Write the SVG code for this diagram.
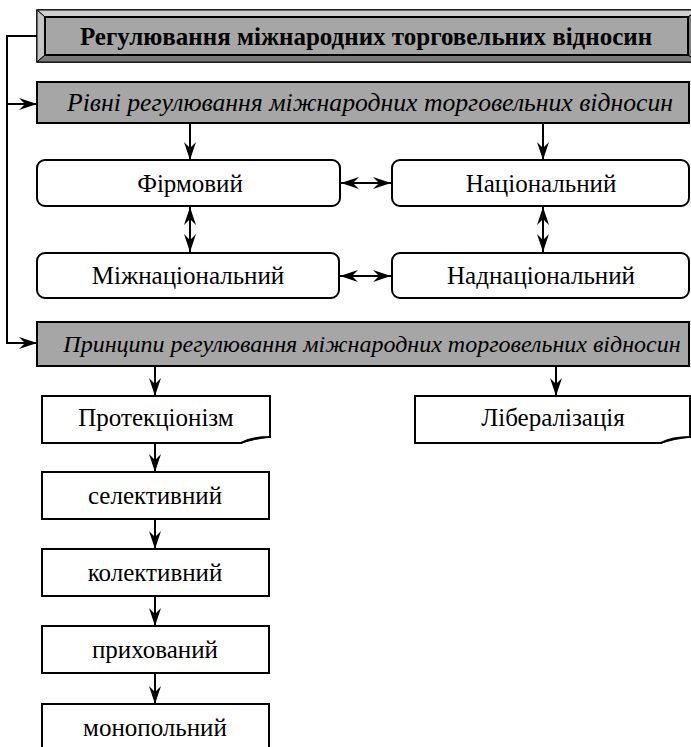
<svg xmlns="http://www.w3.org/2000/svg" width="691" height="747" viewBox="0 0 691 747">
  <style>
    .t { font-family: "Liberation Serif", "Times New Roman", serif; font-size: 25px; fill: #000; text-anchor: middle; }
    .bold { font-weight: bold; font-size: 25px; }
    .it { font-style: italic; font-size: 25px; }
    .box { fill: #fff; stroke: #000; stroke-width: 2; }
    .grey { fill: #a6a6a6; stroke: #000; stroke-width: 2; }
    .edge { fill: none; stroke: #000; stroke-width: 2; }
  </style>
  <defs>
    <marker id="head" markerUnits="userSpaceOnUse" viewBox="0 0 18 12" refX="18" refY="6" markerWidth="18" markerHeight="12" orient="auto-start-reverse">
      <path d="M0,0 L18,6 L0,12 L6,6 Z" fill="#000"/>
    </marker>
  </defs>

  <!-- heading with bevelled frame -->
  <g id="title">
    <rect x="37" y="10" width="662" height="52" fill="#a6a6a6" stroke="#000" stroke-width="1.5"/>
    <polygon points="37,10 699,10 688,17 45,17" fill="#cfcfcf" stroke="#000" stroke-width="1"/>
    <polygon points="37,10 45,17 45,55 37,62" fill="#c4c4c4" stroke="#000" stroke-width="1"/>
    <polygon points="37,62 45,55 688,55 699,62" fill="#7a7a7a" stroke="#000" stroke-width="1"/>
    <polygon points="688,17 699,10 699,62 688,55" fill="#7a7a7a" stroke="#000" stroke-width="1"/>
    <rect x="45" y="17" width="643" height="38" fill="#a6a6a6" stroke="#000" stroke-width="2"/>
    <text class="t bold" x="366" y="45">Регулювання міжнародних торговельних відносин</text>
  </g>

  <g id="levels">
    <rect class="grey" x="37" y="82" width="652" height="41"/>
    <text class="t it" x="370" y="111" textLength="606" lengthAdjust="spacingAndGlyphs">Рівні регулювання міжнародних торговельних відносин</text>
  </g>

  <g id="firm">
    <rect class="box" x="37" y="160" width="303" height="46" rx="8"/>
    <text class="t" x="190" y="192">Фірмовий</text>
  </g>
  <g id="national">
    <rect class="box" x="392" y="160" width="297" height="46" rx="8"/>
    <text class="t" x="541" y="192">Національний</text>
  </g>
  <g id="international">
    <rect class="box" x="37" y="253" width="302" height="45" rx="8"/>
    <text class="t" x="188" y="284">Міжнаціональний</text>
  </g>
  <g id="supranational">
    <rect class="box" x="392" y="253" width="297" height="45" rx="8"/>
    <text class="t" x="541" y="284">Наднаціональний</text>
  </g>

  <g id="principles">
    <rect class="grey" x="37" y="322" width="652" height="44"/>
    <text class="t it" x="372" y="352" style="font-size:24px">Принципи регулювання міжнародних торговельних відносин</text>
  </g>

  <g id="protectionism">
    <path class="box" d="M42,396 H270 V437 Q252,437 241,443 H42 Z"/>
    <path d="M241,443 Q250,437.5 270,437 Q254,439 241,443 Z" fill="#000" stroke="#000" stroke-width="1"/>
    <text class="t" x="156" y="426">Протекціонізм</text>
  </g>
  <g id="liberalization">
    <path class="box" d="M415,396 H690 V437 Q672,437 661,443 H415 Z"/>
    <path d="M661,443 Q670,437.5 690,437 Q674,439 661,443 Z" fill="#000" stroke="#000" stroke-width="1"/>
    <text class="t" x="553" y="426">Лібералізація</text>
  </g>

  <g id="selective">
    <rect class="box" x="42" y="472" width="227" height="47"/>
    <text class="t" x="155" y="504">селективний</text>
  </g>
  <g id="collective">
    <rect class="box" x="42" y="549" width="227" height="47"/>
    <text class="t" x="155" y="581">колективний</text>
  </g>
  <g id="hidden">
    <rect class="box" x="42" y="626" width="227" height="47"/>
    <text class="t" x="155" y="658">прихований</text>
  </g>
  <g id="monopoly">
    <rect class="box" x="42" y="704" width="227" height="60"/>
    <text class="t" x="155" y="736">монопольний</text>
  </g>

  <!-- connectors -->
  <g id="connectors">
    <path class="edge" d="M37,36 H7 V343 H37" marker-end="url(#head)"/>
    <path class="edge" d="M7,104 H37" marker-end="url(#head)"/>
    <path class="edge" d="M190,123 V160" marker-end="url(#head)"/>
    <path class="edge" d="M543,123 V160" marker-end="url(#head)"/>
    <path class="edge" d="M341,183 H391" marker-start="url(#head)" marker-end="url(#head)"/>
    <path class="edge" d="M340,276 H391" marker-start="url(#head)" marker-end="url(#head)"/>
    <path class="edge" d="M190,207 V252" marker-start="url(#head)" marker-end="url(#head)"/>
    <path class="edge" d="M543,207 V252" marker-start="url(#head)" marker-end="url(#head)"/>
    <path class="edge" d="M155,366 V396" marker-end="url(#head)"/>
    <path class="edge" d="M556,366 V396" marker-end="url(#head)"/>
    <path class="edge" d="M155,443 V472" marker-end="url(#head)"/>
    <path class="edge" d="M155,519 V549" marker-end="url(#head)"/>
    <path class="edge" d="M155,596 V626" marker-end="url(#head)"/>
    <path class="edge" d="M155,673 V704" marker-end="url(#head)"/>
  </g>
</svg>
